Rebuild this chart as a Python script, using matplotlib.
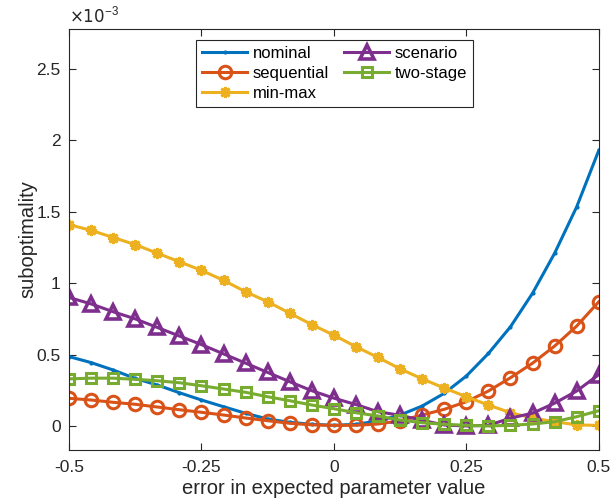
import numpy as np
import matplotlib
matplotlib.use('Agg')
import matplotlib.pyplot as plt
from matplotlib.ticker import FuncFormatter

plt.rcParams['font.family'] = ['Liberation Sans', 'DejaVu Sans']

# error in expected parameter value, 25 points from -0.5 to 0.5
err = np.linspace(-0.5, 0.5, 25)

# suboptimality, in units of 1e-3
nominal = [0.486, 0.444, 0.392, 0.333, 0.287, 0.233, 0.182, 0.135, 0.089, 0.049, 0.026, 0.012, 0.005,
           0.012, 0.035, 0.077, 0.140, 0.229, 0.350, 0.508, 0.695, 0.930, 1.210, 1.535, 1.930]
sequential = [0.194, 0.182, 0.166, 0.152, 0.133, 0.114, 0.096, 0.077, 0.056, 0.037, 0.019, 0.008, 0.004,
              0.005, 0.014, 0.037, 0.077, 0.117, 0.170, 0.245, 0.338, 0.440, 0.560, 0.700, 0.870]
minmax = [1.41, 1.37, 1.32, 1.27, 1.21, 1.15, 1.09, 1.02, 0.94, 0.87, 0.79, 0.71, 0.636,
          0.555, 0.480, 0.400, 0.330, 0.266, 0.205, 0.147, 0.093, 0.056, 0.030, 0.008, 0.004]
scenario = [0.90, 0.855, 0.80, 0.75, 0.69, 0.63, 0.57, 0.505, 0.44, 0.375, 0.31, 0.247, 0.195,
            0.150, 0.100, 0.075, 0.040, 0.007, 0.0, 0.005, 0.055, 0.090, 0.160, 0.245, 0.360]
twostage = [0.33, 0.335, 0.335, 0.327, 0.317, 0.303, 0.282, 0.259, 0.236, 0.205, 0.177, 0.147, 0.121,
            0.093, 0.070, 0.042, 0.023, 0.012, 0.005, 0.0, 0.005, 0.014, 0.030, 0.065, 0.107]

xticks = [-0.5, -0.25, 0, 0.25, 0.5]
yticks = [0, 0.5, 1, 1.5, 2, 2.5]

fig = plt.figure(figsize=(6.11, 5.0), dpi=100)
ax = fig.add_axes([0.113, 0.1, 0.867, 0.842])

lw = 2.2
ax.plot(err, nominal, '.-', color='#0072BD', lw=lw, ms=4, label='nominal')
ax.plot(err, sequential, 'o-', color='#D95319', lw=lw, ms=9, mfc='none', mew=2.2, label='sequential')
ax.plot(err, minmax, marker=(8, 2, 0), ls='-', color='#EDB120', lw=lw, ms=8, mew=2, label='min-max')
ax.plot(err, scenario, '^-', color='#7E2F8E', lw=lw, ms=10, mfc='none', mew=2.6, label='scenario')
ax.plot(err, twostage, 's-', color='#77AC30', lw=lw, ms=7, mfc='none', mew=2.2, label='two-stage')

ax.set_xlim(-0.5, 0.5)
ax.set_ylim(-0.168, 2.78)
ax.set_xticks(xticks)
ax.set_yticks(yticks)
fmt = FuncFormatter(lambda v, p: '%g' % v)
ax.xaxis.set_major_formatter(fmt)
ax.yaxis.set_major_formatter(fmt)
ax.tick_params(direction='in', top=True, right=True, labelsize=12.5, colors='#262626', length=5)
ax.tick_params(axis='x', pad=7)
ax.tick_params(axis='y', pad=6)
for s in ax.spines.values():
    s.set_color('#262626')
    s.set_linewidth(0.8)

ax.set_xlabel('error in expected parameter value', fontsize=14.5, color='#262626', labelpad=3)
ax.set_ylabel('suboptimality', fontsize=14.5, color='#262626', labelpad=-1)
ax.text(0.0, 1.008, r'$\times10^{\mathregular{-3}}$', transform=ax.transAxes, fontsize=12,
        color='#262626', va='bottom', ha='left')

leg = ax.legend(ncol=2, loc='upper left', bbox_to_anchor=(0.24, 0.974), borderaxespad=0,
                fontsize=12, numpoints=1, fancybox=False, edgecolor='#262626', framealpha=1,
                borderpad=0.35, handlelength=2.7, columnspacing=0.9, labelspacing=0.3,
                handletextpad=0.35)
leg.get_frame().set_linewidth(0.8)

plt.savefig('out.png', dpi=100)
